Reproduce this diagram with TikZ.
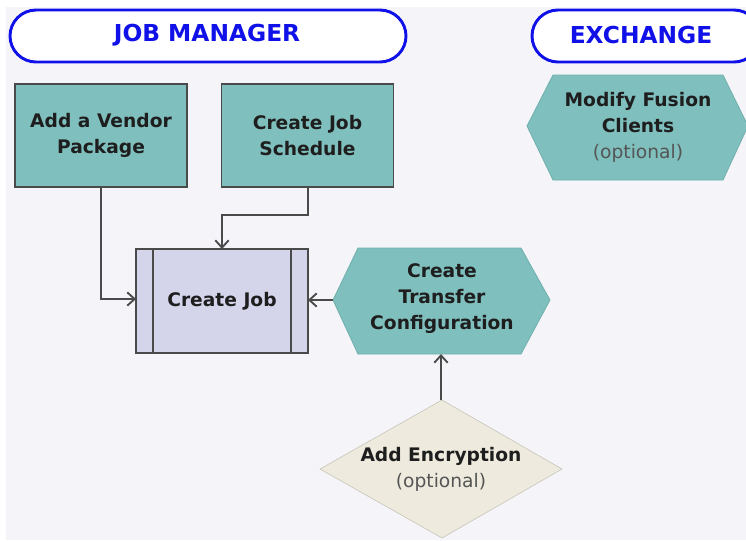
\documentclass[tikz,border=0pt]{standalone}
\usepackage{fontspec}
\setmainfont{DejaVu Sans}
\usetikzlibrary{arrows.meta,shapes.geometric}
\definecolor{bg}{HTML}{F5F5F9}
\definecolor{teal}{HTML}{7FBFBD}
\definecolor{tealedge}{HTML}{6FAFAD}
\definecolor{lav}{HTML}{D4D4EA}
\definecolor{beige}{HTML}{EEEBDE}
\definecolor{edge}{HTML}{4A4A4A}
\definecolor{hdr}{HTML}{1010E8}
\definecolor{opt}{HTML}{555555}
\definecolor{ink}{HTML}{1E1E1E}
\tikzset{
  every picture/.style={x=0.75pt,y=-0.75pt},
  hdrbox/.style={draw=hdr,line width=2.2pt,rounded corners=19.5pt,fill=white},
  hdrtxt/.style={text=hdr,font=\fontsize{17.5}{20}\selectfont\bfseries},
  taskbox/.style={draw=edge,line width=1.2pt,fill=teal,text=ink,font=\fontsize{14}{19.5}\selectfont\bfseries,align=center,inner sep=0pt,minimum width=129pt,minimum height=77pt},
  hexbox/.style={draw=tealedge,line width=0.6pt,fill=teal},
  bodytxt/.style={text=ink,font=\fontsize{14}{19.5}\selectfont,align=center},
  conn/.style={draw=edge,line width=1.5pt,-{Straight Barb[length=5.5pt,width=10pt,line width=1.4pt]}}
}
\begin{document}
\begin{tikzpicture}
\useasboundingbox (0,0) rectangle (746,540);
\fill[white] (0,0) rectangle (746,540);
\fill[bg] (6,7) rectangle (746,540);
% headers
\draw[hdrbox] (10,10) rectangle (406,62);
\node[hdrtxt] (jm) at (207,35) {JOB MANAGER};
\draw[hdrbox] (532,10) rectangle (760,62);
\node[hdrtxt] (ex) at (641,35) {EXCHANGE};
% task boxes
\node[taskbox] (vendor) at (101,135.5) {Add a Vendor\\Package};
\node[taskbox] (sched) at (307.5,135.5) {Create Job\\Schedule};
% create job
\fill[lav,draw=edge,line width=1.2pt] (136,249) rectangle (308,353);
\draw[edge,line width=1.2pt] (153,249) -- (153,353) (291,249) -- (291,353);
\node[bodytxt,font=\fontsize{14}{19.5}\selectfont\bfseries] (job) at (222,301) {Create Job};
\coordinate (jobL) at (136,299);
\coordinate (jobT) at (222,249);
\coordinate (jobR) at (308,300);
% hexagons
\filldraw[hexbox] (333,300) -- (358,248) -- (521,248) -- (550,300) -- (521,354) -- (358,354) -- cycle;
\node[bodytxt,font=\fontsize{14}{19.5}\selectfont\bfseries] (ctc) at (442,299) {Create\\Transfer\\Configuration};
\coordinate (ctcL) at (333,300);
\coordinate (ctcB) at (441,354);
\filldraw[hexbox] (527,126) -- (553,75) -- (723,75) -- (748,126) -- (723,180) -- (553,180) -- cycle;
\node[bodytxt] (mfc) at (638,127) {\textbf{Modify Fusion}\\\textbf{Clients}\\\textcolor{opt}{(optional)}};
% diamond
\filldraw[fill=beige,draw=beige!85!black,line width=0.5pt] (442,400) -- (562,469) -- (442,538) -- (320,469) -- cycle;
\node[bodytxt] (enc) at (441,469) {\textbf{Add Encryption}\\\textcolor{opt}{(optional)}};
\coordinate (encT) at (441,400);
% connectors
\draw[conn] (vendor.south) |- (jobL);
\draw[conn] (sched.south) |- (260,215) -| (jobT);
\draw[conn] (ctcL) -- (jobR);
\draw[conn] (encT) -- (ctcB);
\end{tikzpicture}
\end{document}
